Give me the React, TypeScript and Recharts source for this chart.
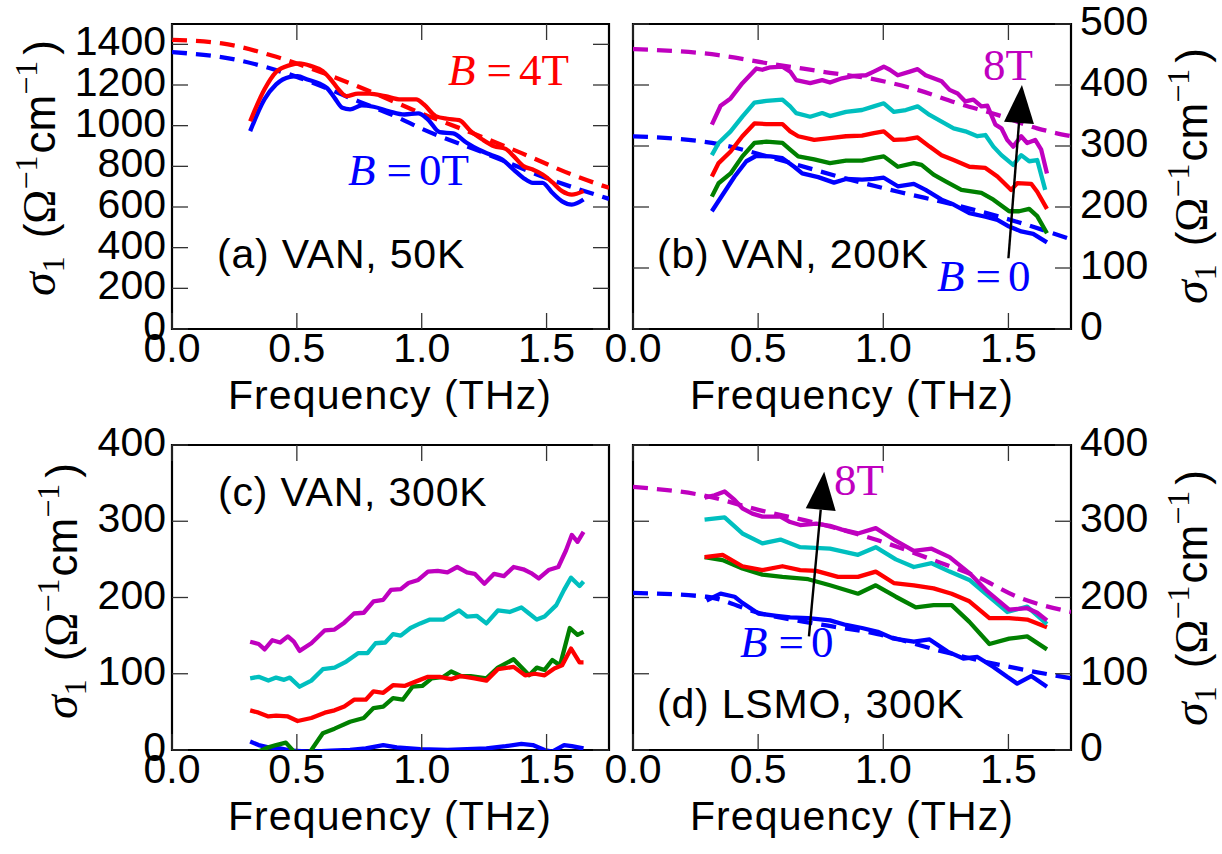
import React from 'react';
import { LineChart, Line, XAxis, YAxis, ReferenceArea, ReferenceLine } from 'recharts';

// ---------- shared axis values ----------
const X_TICKS = [0, 0.5, 1.0, 1.5];
const X_MAX = 1.75;
const Y_TICKS_A = [0, 200, 400, 600, 800, 1000, 1200, 1400];
const Y_TICKS_B = [0, 100, 200, 300, 400, 500];
const Y_TICKS_CD = [0, 100, 200, 300, 400];

// ---------- panel (a) VAN 50K : [THz, sigma] ----------
const A_0T = [[0.313,973],[0.37,1129],[0.417,1203],[0.472,1240],[0.503,1244],[0.542,1227],[0.589,1208],[0.62,1186],[0.651,1137],[0.682,1088],[0.713,1080],[0.76,1100],[0.807,1093],[0.869,1071],[0.931,1055],[0.986,1060],[1.025,1030],[1.072,968],[1.126,962],[1.18,916],[1.227,883],[1.274,858],[1.321,834],[1.368,784],[1.407,743],[1.445,719],[1.484,719],[1.523,670],[1.562,628],[1.601,612],[1.648,637]];
const A_4T = [[0.313,1022],[0.37,1178],[0.417,1264],[0.472,1298],[0.51,1306],[0.557,1293],[0.604,1268],[0.636,1227],[0.667,1178],[0.698,1145],[0.745,1158],[0.791,1158],[0.854,1145],[0.916,1129],[0.978,1129],[1.009,1104],[1.056,1047],[1.103,1034],[1.15,1027],[1.196,973],[1.243,932],[1.29,899],[1.336,886],[1.368,850],[1.407,801],[1.445,784],[1.484,760],[1.523,722],[1.562,678],[1.601,661],[1.648,678]];
const A_0T_FIT = [[0,1362],[0.25,1326],[0.5,1240],[0.75,1118],[0.9,1043],[1.0,985],[1.25,866],[1.5,742],[1.75,640]];
const A_4T_FIT = [[0,1422],[0.2,1405],[0.4,1345],[0.6,1262],[0.8,1165],[1.0,1060],[1.2,965],[1.4,865],[1.6,760],[1.75,694]];

// ---------- panel (b) VAN 200K ----------
const B_0 = [[0.315,193],[0.358,220],[0.406,250],[0.453,275],[0.493,284],[0.549,283],[0.597,280],[0.644,266],[0.676,255],[0.74,249],[0.803,240],[0.851,246],[0.915,245],[0.962,246],[1.002,248],[1.058,234],[1.122,238],[1.169,228],[1.233,212],[1.281,204],[1.344,190],[1.408,184],[1.456,179],[1.503,168],[1.551,160],[1.599,156],[1.654,142]];
const B_2 = [[0.315,217],[0.342,239],[0.39,255],[0.437,283],[0.485,305],[0.533,307],[0.597,305],[0.628,294],[0.66,283],[0.724,278],[0.787,272],[0.851,276],[0.915,276],[0.962,280],[1.002,283],[1.058,266],[1.122,272],[1.153,269],[1.201,253],[1.249,242],[1.312,228],[1.392,223],[1.44,212],[1.503,193],[1.543,193],[1.583,197],[1.615,185],[1.654,157]];
const B_4 = [[0.315,250],[0.342,272],[0.39,291],[0.437,316],[0.485,337],[0.533,336],[0.597,336],[0.628,324],[0.66,316],[0.724,310],[0.787,313],[0.851,316],[0.915,317],[0.962,321],[1.002,324],[1.042,310],[1.09,311],[1.137,314],[1.185,299],[1.233,285],[1.281,277],[1.344,266],[1.408,264],[1.456,250],[1.511,228],[1.535,239],[1.591,238],[1.615,225],[1.654,197]];
const B_6 = [[0.315,285],[0.342,305],[0.39,324],[0.437,348],[0.485,371],[0.533,374],[0.597,376],[0.628,365],[0.652,354],[0.708,348],[0.756,354],[0.787,349],[0.851,356],[0.915,359],[0.962,365],[1.002,370],[1.042,356],[1.09,359],[1.137,365],[1.185,351],[1.233,340],[1.281,329],[1.328,324],[1.376,316],[1.408,318],[1.44,299],[1.472,285],[1.519,269],[1.551,285],[1.583,275],[1.615,277],[1.647,228]];
const B_8 = [[0.315,335],[0.35,366],[0.39,378],[0.437,403],[0.493,427],[0.517,425],[0.549,429],[0.597,430],[0.628,422],[0.652,408],[0.708,403],[0.756,408],[0.787,404],[0.835,411],[0.883,415],[0.931,416],[0.962,422],[1.002,430],[1.026,425],[1.058,416],[1.106,422],[1.137,426],[1.169,416],[1.201,411],[1.233,406],[1.265,392],[1.297,386],[1.328,373],[1.36,376],[1.392,365],[1.416,366],[1.448,335],[1.472,329],[1.495,310],[1.519,299],[1.551,316],[1.575,305],[1.607,310],[1.631,294],[1.654,255]];
const B_0_FIT = [[0,316],[0.342,303],[0.58,278],[0.82,250],[1.06,225],[1.3,202],[1.54,175],[1.75,147]];
const B_8_FIT = [[0,459],[0.342,449],[0.533,436],[0.756,422],[0.979,408],[1.137,392],[1.297,370],[1.456,351],[1.615,329],[1.75,316]];
const B_ARROW = [[1.5,116],[1.554,400]];

// ---------- panel (c) VAN 300K ----------
const C_0 = [[0.313,11],[0.347,6.5],[0.386,3.5],[0.433,2],[0.48,-1],[0.558,-2],[0.636,-1],[0.713,0],[0.776,2],[0.846,6.5],[0.9,3.5],[0.994,1],[1.103,0],[1.181,1],[1.259,2],[1.336,5],[1.399,8],[1.445,6.5],[1.492,0],[1.523,-2],[1.57,6.5],[1.601,5],[1.648,2]];
const C_2 = [[0.313,-5],[0.347,-2],[0.386,3.5],[0.417,6.5],[0.456,9.6],[0.488,-2],[0.519,-17],[0.558,0],[0.604,22],[0.651,28],[0.713,37],[0.768,42],[0.807,55],[0.846,57],[0.885,68],[0.924,66],[0.963,83],[1.002,84],[1.04,94],[1.087,96],[1.118,103],[1.157,97],[1.196,97],[1.259,94],[1.305,108],[1.368,119],[1.407,106],[1.43,98],[1.461,108],[1.492,105],[1.523,118],[1.554,111],[1.593,160],[1.624,151],[1.648,155]];
const C_4 = [[0.313,52],[0.347,49],[0.386,44],[0.417,45],[0.464,44],[0.503,38],[0.558,42],[0.612,49],[0.651,52],[0.69,57],[0.729,66],[0.776,66],[0.807,77],[0.846,75],[0.885,85],[0.931,84],[0.978,90],[1.025,96],[1.072,96],[1.118,93],[1.157,97],[1.212,94],[1.259,91],[1.305,106],[1.368,109],[1.414,98],[1.453,100],[1.492,98],[1.531,107],[1.562,111],[1.598,133],[1.632,115],[1.648,115]];
const C_6 = [[0.313,94],[0.347,96],[0.386,91],[0.417,95],[0.449,92],[0.472,95],[0.511,83],[0.558,91],[0.604,106],[0.651,108],[0.698,116],[0.745,127],[0.783,127],[0.815,140],[0.854,141],[0.885,152],[0.916,150],[0.955,160],[0.994,166],[1.033,171],[1.087,171],[1.15,183],[1.181,175],[1.22,176],[1.259,166],[1.305,183],[1.352,181],[1.399,187],[1.43,179],[1.461,171],[1.492,175],[1.539,190],[1.57,210],[1.598,226],[1.632,215],[1.648,221]];
const C_8 = [[0.313,142],[0.347,139],[0.371,132],[0.402,144],[0.433,141],[0.464,149],[0.488,142],[0.511,130],[0.558,140],[0.612,157],[0.651,158],[0.69,167],[0.729,179],[0.768,180],[0.807,195],[0.846,197],[0.877,210],[0.916,211],[0.947,219],[0.986,223],[1.025,234],[1.064,235],[1.103,233],[1.142,240],[1.181,233],[1.212,231],[1.251,218],[1.29,231],[1.329,228],[1.368,240],[1.407,237],[1.438,232],[1.469,225],[1.508,236],[1.547,240],[1.578,262],[1.601,282],[1.624,273],[1.648,286]];

// ---------- panel (d) LSMO 300K ----------
const D_0 = [[0.294,196],[0.35,205],[0.406,201],[0.437,193],[0.501,179],[0.573,176],[0.628,174],[0.7,173],[0.787,170],[0.851,164],[0.915,160],[0.978,155],[1.042,146],[1.122,142],[1.185,145],[1.257,129],[1.32,120],[1.376,122],[1.44,109],[1.495,96],[1.535,87],[1.591,97],[1.654,83]];
const D_2 = [[0.286,253],[0.358,249],[0.437,238],[0.517,230],[0.597,227],[0.7,224],[0.787,216],[0.899,205],[0.97,216],[1.05,201],[1.13,187],[1.201,190],[1.273,190],[1.344,168],[1.424,139],[1.503,146],[1.575,149],[1.654,132]];
const D_4 = [[0.286,253],[0.358,256],[0.437,241],[0.517,236],[0.597,241],[0.668,236],[0.732,235],[0.819,227],[0.899,227],[0.97,234],[1.042,219],[1.122,216],[1.201,212],[1.273,205],[1.344,195],[1.424,173],[1.503,173],[1.575,171],[1.654,161]];
const D_6 = [[0.286,302],[0.366,305],[0.437,284],[0.517,271],[0.589,276],[0.668,266],[0.787,264],[0.899,256],[0.97,266],[1.05,250],[1.122,240],[1.193,245],[1.265,234],[1.344,223],[1.424,201],[1.495,181],[1.575,188],[1.654,165]];
const D_8 = [[0.286,331],[0.326,334],[0.366,339],[0.406,328],[0.437,317],[0.477,310],[0.517,306],[0.589,306],[0.628,299],[0.668,295],[0.732,297],[0.787,294],[0.835,289],[0.899,284],[0.97,291],[1.042,276],[1.122,261],[1.193,264],[1.265,253],[1.344,232],[1.416,208],[1.503,184],[1.575,186],[1.615,180],[1.654,170]];
const D_0_FIT = [[0,206],[0.294,201],[0.501,180],[0.74,165],[0.978,152],[1.217,131],[1.376,118],[1.535,107],[1.75,94]];
const D_8_FIT = [[0,345],[0.294,333],[0.501,315],[0.74,297],[0.978,275],[1.217,247],[1.376,227],[1.535,201],[1.75,181]];
const D_ARROW = [[0.703,149],[0.764,365]];

// ---------- styling ----------
const BLUE = '#0000ff', RED = '#ff0000', GREEN = '#008000', CYAN = '#00bfbf', MAG = '#bf00bf';
const SANS = '"Liberation Sans", Arial, Helvetica, sans-serif';
const SERIF = '"Liberation Serif", "DejaVu Serif", serif';
const W = 1222, H = 854;
const TICK_LEN = 16;
const Y_AXIS_W = 60, X_AXIS_H = 30;

type Geom = { L: number; R: number; T: number; B: number };
type Series = { data: number[][]; color: string; dashed?: boolean; smooth?: boolean };

const toPts = (arr: number[][]) => arr.map(([f, s]) => ({ f, s }));

const makeXTick = (g: Geom) => (props: any) => {
  const { x, payload } = props;
  return (
    <g>
      <line x1={x} y1={g.B} x2={x} y2={g.B - TICK_LEN} stroke="#333" strokeWidth={1.3} />
      <line x1={x} y1={g.T} x2={x} y2={g.T + TICK_LEN} stroke="#333" strokeWidth={1.3} />
      <text x={x} y={g.B + 33} textAnchor="middle" fontFamily={SANS} fontSize={41} fill="#000">
        {Number(payload.value).toFixed(1)}
      </text>
    </g>
  );
};

const makeYTick = (g: Geom, side: 'left' | 'right') => (props: any) => {
  const { y, payload } = props;
  return (
    <g>
      <line x1={g.L} y1={y} x2={g.L + TICK_LEN} y2={y} stroke="#333" strokeWidth={1.3} />
      <line x1={g.R} y1={y} x2={g.R - TICK_LEN} y2={y} stroke="#333" strokeWidth={1.3} />
      <text
        x={side === 'left' ? g.L - 6 : g.R + 9}
        y={y + 11}
        textAnchor={side === 'left' ? 'end' : 'start'}
        fontFamily={SANS}
        fontSize={41}
        fill="#000"
      >
        {payload.value}
      </text>
    </g>
  );
};

const ArrowShape = (props: any) => {
  const { x1, y1, x2, y2 } = props;
  const dx = x2 - x1, dy = y2 - y1;
  const len = Math.hypot(dx, dy) || 1;
  const ux = dx / len, uy = dy / len;
  const hl = 38, hw = 15;
  const bx = x2 - ux * hl, by = y2 - uy * hl;
  const px = -uy, py = ux;
  return (
    <g>
      <line x1={x1} y1={y1} x2={bx} y2={by} stroke="#000" strokeWidth={2.4} />
      <polygon
        points={`${x2},${y2} ${bx + px * hw},${by + py * hw} ${bx - px * hw},${by - py * hw}`}
        fill="#000"
      />
    </g>
  );
};

function Panel(props: {
  g: Geom; yMax: number; yTicks: number[]; side: 'left' | 'right'; series: Series[]; arrow?: number[][];
}) {
  const { g, yMax, yTicks, side, series, arrow } = props;
  const margin = side === 'left'
    ? { top: g.T, left: g.L - Y_AXIS_W, right: W - g.R, bottom: H - g.B - X_AXIS_H }
    : { top: g.T, left: g.L, right: W - g.R - Y_AXIS_W, bottom: H - g.B - X_AXIS_H };
  return (
    <div style={{ position: 'absolute', left: 0, top: 0, width: W, height: H }}>
      <LineChart width={W} height={H} margin={margin}>
        <XAxis
          type="number" dataKey="f" domain={[0, X_MAX]} ticks={X_TICKS} interval={0}
          allowDataOverflow height={X_AXIS_H} axisLine={false} tickLine={false} tick={makeXTick(g)}
        />
        <YAxis
          type="number" dataKey="s" domain={[0, yMax]} ticks={yTicks} interval={0}
          allowDataOverflow orientation={side} width={Y_AXIS_W} axisLine={false} tickLine={false}
          tick={makeYTick(g, side)}
        />
        {series.map((s, i) => (
          <Line
            key={i}
            data={toPts(s.data)}
            dataKey="s"
            type={s.smooth ? 'monotone' : 'linear'}
            stroke={s.color}
            strokeWidth={4.3}
            strokeDasharray={s.dashed ? '15 9' : undefined}
            strokeLinejoin="round"
            dot={false}
            activeDot={false}
            isAnimationActive={false}
          />
        ))}
        <ReferenceArea
          x1={0} x2={X_MAX} y1={0} y2={yMax}
          fill="#ffffff" fillOpacity={0} stroke="#000" strokeWidth={2.2} strokeOpacity={1}
        />
        {arrow && (
          <ReferenceLine
            segment={[{ x: arrow[0][0], y: arrow[0][1] }, { x: arrow[1][0], y: arrow[1][1] }]}
            shape={ArrowShape}
            stroke="#000"
          />
        )}
      </LineChart>
    </div>
  );
}

const GA: Geom = { L: 172, R: 609, T: 24, B: 329 };
const GB: Geom = { L: 633, R: 1071, T: 24, B: 329 };
const GC: Geom = { L: 172, R: 609, T: 445, B: 750 };
const GD: Geom = { L: 633, R: 1071, T: 445, B: 750 };

const YTitle = ({ x, y }: { x: number; y: number }) => (
  <text transform={`translate(${x},${y}) rotate(-90)`} textAnchor="middle" fontFamily={SANS} fontSize={44} fill="#000">
    <tspan fontFamily={SERIF} fontStyle="italic" fontSize={48}>σ</tspan>
    <tspan fontFamily={SERIF} fontSize={32} dy={9}>1</tspan>
    <tspan dy={-9} dx={18}>(</tspan>
    <tspan fontFamily={SERIF} fontSize={46}>Ω</tspan>
    <tspan fontFamily={SERIF} fontSize={32} dy={-18}>−1</tspan>
    <tspan dy={18} dx={2}>cm</tspan>
    <tspan fontFamily={SERIF} fontSize={32} dy={-18}>−1</tspan>
    <tspan dy={18} dx={6}>)</tspan>
  </text>
);

const BEq = ({ x, y, rhs, color }: { x: number; y: number; rhs: string; color: string }) => (
  <text x={x} y={y} fontFamily={SERIF} fontSize={45} fill={color}>
    <tspan fontStyle="italic">B</tspan>
    <tspan dx={11}>=</tspan>
    <tspan dx={7}>{rhs}</tspan>
  </text>
);

export default function App() {
  const seriesA: Series[] = [
    { data: A_0T_FIT, color: BLUE, dashed: true, smooth: true },
    { data: A_4T_FIT, color: RED, dashed: true, smooth: true },
    { data: A_0T, color: BLUE, smooth: true },
    { data: A_4T, color: RED, smooth: true },
  ];
  const seriesB: Series[] = [
    { data: B_0_FIT, color: BLUE, dashed: true, smooth: true },
    { data: B_8_FIT, color: MAG, dashed: true, smooth: true },
    { data: B_0, color: BLUE },
    { data: B_2, color: GREEN },
    { data: B_4, color: RED },
    { data: B_6, color: CYAN },
    { data: B_8, color: MAG },
  ];
  const seriesC: Series[] = [
    { data: C_0, color: BLUE },
    { data: C_2, color: GREEN },
    { data: C_4, color: RED },
    { data: C_6, color: CYAN },
    { data: C_8, color: MAG },
  ];
  const seriesD: Series[] = [
    { data: D_0_FIT, color: BLUE, dashed: true, smooth: true },
    { data: D_8_FIT, color: MAG, dashed: true, smooth: true },
    { data: D_0, color: BLUE },
    { data: D_2, color: GREEN },
    { data: D_4, color: RED },
    { data: D_6, color: CYAN },
    { data: D_8, color: MAG },
  ];
  const lab = { fontFamily: SANS, fontSize: 41, fill: '#000', letterSpacing: 0.8 } as const;
  const xt = { fontFamily: SANS, fontSize: 41, fill: '#000', letterSpacing: 1.1, textAnchor: 'middle' } as const;
  return (
    <div style={{ position: 'absolute', left: 0, top: 0, width: W, height: H, background: '#fff' }}>
      <Panel g={GA} yMax={1500} yTicks={Y_TICKS_A} side="left" series={seriesA} />
      <Panel g={GB} yMax={500} yTicks={Y_TICKS_B} side="right" series={seriesB} arrow={B_ARROW} />
      <Panel g={GC} yMax={400} yTicks={Y_TICKS_CD} side="left" series={seriesC} />
      <Panel g={GD} yMax={400} yTicks={Y_TICKS_CD} side="right" series={seriesD} arrow={D_ARROW} />
      <svg width={W} height={H} style={{ position: 'absolute', left: 0, top: 0, pointerEvents: 'none' }}>
        <text x={217} y={268} {...lab}>(a) VAN, 50K</text>
        <text x={657} y={268} {...lab}>(b) VAN, 200K</text>
        <text x={218} y={506} {...lab}>(c) VAN, 300K</text>
        <text x={657} y={718} {...lab}>(d) LSMO, 300K</text>
        <text x={390} y={409} {...xt}>Frequency (THz)</text>
        <text x={852} y={409} {...xt}>Frequency (THz)</text>
        <text x={390} y={830} {...xt}>Frequency (THz)</text>
        <text x={852} y={830} {...xt}>Frequency (THz)</text>
        <YTitle x={55} y={168} />
        <YTitle x={1207} y={176} />
        <YTitle x={77} y={591} />
        <YTitle x={1207} y={598} />
        <BEq x={448} y={85} rhs="4T" color={RED} />
        <BEq x={348} y={185} rhs="0T" color={BLUE} />
        <text x={983} y={80} fontFamily={SERIF} fontSize={45} fill={MAG}>8T</text>
        <BEq x={937} y={291} rhs="0" color={BLUE} />
        <text x={834} y={495} fontFamily={SERIF} fontSize={45} fill={MAG}>8T</text>
        <BEq x={740} y={657} rhs="0" color={BLUE} />
      </svg>
    </div>
  );
}
